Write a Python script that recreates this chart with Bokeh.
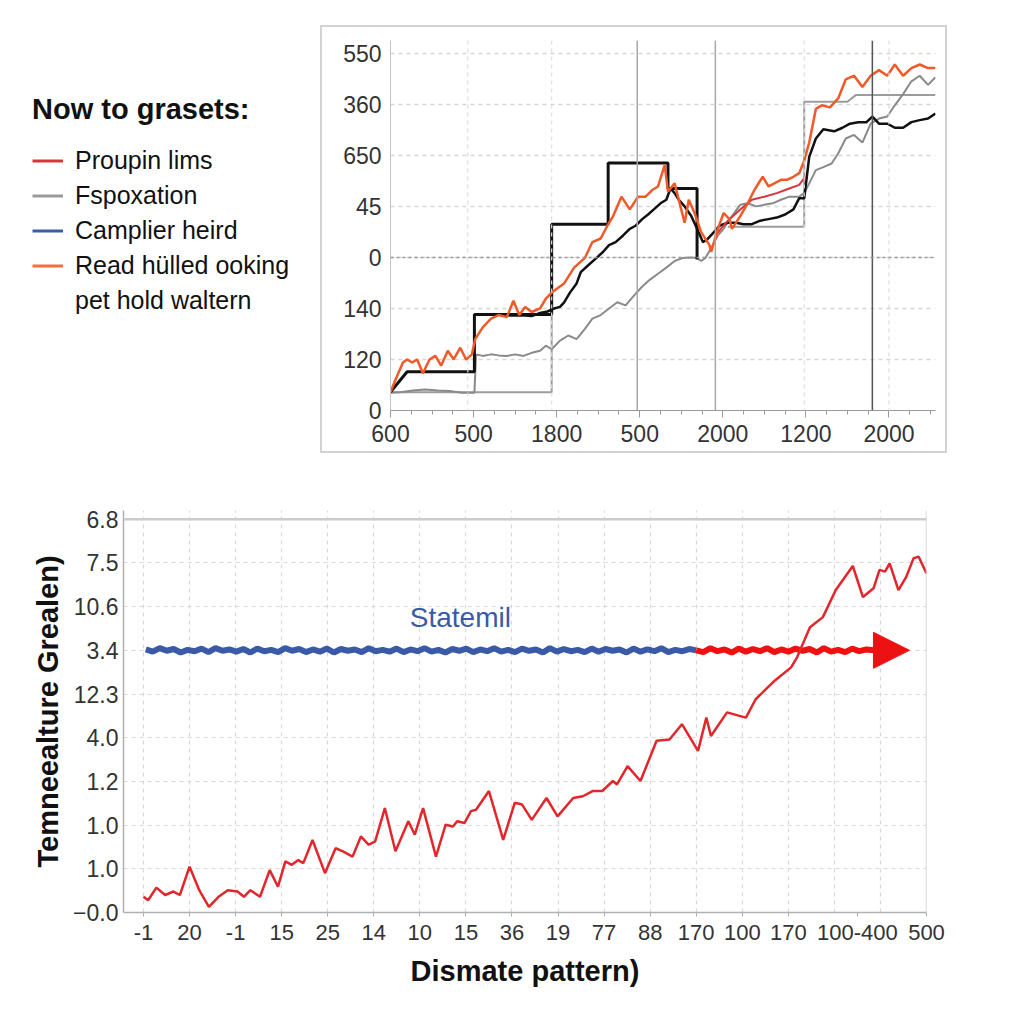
import numpy as np
from bokeh.plotting import figure
from bokeh.models import (Range1d, FixedTicker, Span, Legend, LegendItem, Arrow,
                          NormalHead, Spacer)
from bokeh.layouts import column, row
from bokeh.embed import file_html
from bokeh.resources import INLINE
from bokeh.core.properties import value

FONT = "Liberation Sans"
NaN = float("nan")

# ---------------- legend (left of top chart) ----------------
legend_title = "Now to grasets:"
legend_labels = ["Proupin lims", "Fspoxation", "Camplier heird",
                 "Read hülled ooking", "pet hold waltern"]
legend_colors = ["#d8343c", "#9a9a9a", "#3a5ba6", "#f0703e", None]

# ---------------- top chart ----------------
top_x_labels = ["600", "500", "1800", "500", "2000", "1200", "2000"]
top_y_labels = ["0", "120", "140", "0", "45", "650", "360", "550"]

orange_x = [0, 0.07, 0.15, 0.20, 0.26, 0.32, 0.39, 0.47, 0.54, 0.61, 0.69, 0.76, 0.84, 0.91,
            0.98, 1.02, 1.11, 1.21, 1.30, 1.40, 1.48, 1.55, 1.62, 1.70, 1.80, 1.87, 1.94,
            2.09, 2.21, 2.34, 2.43, 2.53, 2.61, 2.68, 2.78, 2.88, 2.98, 3.07, 3.15, 3.22,
            3.30, 3.34, 3.42, 3.49, 3.54, 3.59, 3.66, 3.74, 3.84, 3.86, 3.94, 4.01, 4.08,
            4.11, 4.21, 4.30, 4.38, 4.48, 4.55, 4.62, 4.70, 4.77, 4.85, 4.92, 4.98, 5.04,
            5.12, 5.19, 5.29, 5.39, 5.48, 5.58, 5.68, 5.78, 5.88, 5.98, 6.07, 6.17, 6.27,
            6.37, 6.47, 6.56]
orange_y = [0.36, 0.64, 0.94, 1.00, 0.94, 1.00, 0.73, 1.00, 1.07, 0.88, 1.17, 1.00, 1.23, 1.00,
            1.10, 1.40, 1.63, 1.80, 1.87, 1.83, 2.15, 1.87, 2.03, 1.93, 2.00, 2.19, 2.31,
            2.49, 2.80, 2.99, 3.30, 3.37, 3.62, 3.81, 4.19, 3.94, 4.19, 4.19, 4.32, 4.39,
            4.81, 4.29, 4.45, 4.00, 3.68, 4.13, 3.87, 3.49, 3.24, 3.11, 3.56, 3.87, 3.75,
            3.56, 3.81, 4.06, 4.32, 4.58, 4.39, 4.45, 4.52, 4.52, 4.58, 4.65, 4.90, 5.25,
            5.91, 5.98, 5.94, 6.12, 6.49, 6.56, 6.34, 6.56, 6.67, 6.56, 6.78, 6.56, 6.71,
            6.78, 6.71, 6.71]

black_x = [1.30, 1.45, 1.62, 1.70, 1.80, 1.89, 1.97, 2.04, 2.09, 2.16, 2.24, 2.29, 2.39, 2.48,
           2.56, 2.63, 2.71, 2.80, 2.88, 2.95, 3.03, 3.10, 3.17, 3.25, 3.32, 3.37, 3.42,
           3.47, 3.54, 3.62, 3.69, 3.76, 3.81, 3.89, 3.96, 4.06, 4.16, 4.25, 4.35, 4.45,
           4.55, 4.65, 4.75, 4.85, 4.92, 4.98, 5.04, 5.12, 5.21, 5.34, 5.44, 5.53, 5.63,
           5.73, 5.80, 5.88, 5.98, 6.07, 6.17, 6.27, 6.37, 6.47, 6.56]
black_y = [1.88, 1.86, 1.86, 1.85, 1.91, 1.94, 2.00, 2.03, 2.12, 2.31, 2.49, 2.71, 2.86, 2.99,
           3.11, 3.24, 3.30, 3.43, 3.56, 3.62, 3.75, 3.84, 3.94, 4.06, 4.13, 4.35, 4.26,
           4.13, 4.00, 3.81, 3.56, 3.30, 3.35, 3.49, 3.62, 3.68, 3.68, 3.65, 3.65, 3.72,
           3.75, 3.78, 3.84, 3.94, 4.16, 4.16, 4.97, 5.33, 5.51, 5.47, 5.54, 5.62, 5.65,
           5.65, 5.76, 5.62, 5.62, 5.54, 5.54, 5.65, 5.69, 5.72, 5.82]

black_step_x = [0, 0.20, 1.01, 1.01, 1.94, 1.94, 2.62, 2.62, 3.34, 3.34, 3.69, 3.69]
black_step_y = [0.36, 0.76, 0.76, 1.88, 1.88, 3.65, 3.65, 4.85, 4.85, 4.35, 4.35, 2.96]

gray_step_x = [0, 1.94, 1.94, NaN, 4.06, 4.98, 4.98, 5.50, 5.60, 6.56]
gray_step_y = [0.36, 0.36, 1.88, NaN, 3.60, 3.60, 6.05, 6.05, 6.18, 6.18]

gray_x = [0, 0.12, 0.27, 0.42, 0.57, 0.71, 0.86, 1.01, 1.03, 1.11, 1.21, 1.30, 1.40, 1.50,
          1.60, 1.70, 1.80, 1.87, 1.94, 2.04, 2.14, 2.24, 2.34, 2.43, 2.53, 2.63, 2.73,
          2.83, 2.93, 3.03, 3.12, 3.22, 3.32, 3.42, 3.52, 3.62, 3.69, 3.74, 3.79, 3.86,
          3.94, 4.01, 4.11, 4.21, 4.30, 4.40, 4.50, 4.60, 4.70, 4.80, 4.92, 4.98, 5.04,
          5.12, 5.21, 5.31, 5.39, 5.48, 5.58, 5.68, 5.78, 5.88, 5.98, 6.07, 6.17, 6.27,
          6.37, 6.47, 6.56]
gray_y = [0.35, 0.36, 0.39, 0.41, 0.39, 0.38, 0.35, 0.35, 1.10, 1.07, 1.10, 1.08, 1.07, 1.10,
          1.07, 1.13, 1.17, 1.27, 1.20, 1.37, 1.47, 1.40, 1.60, 1.80, 1.87, 2.00, 2.12,
          2.06, 2.25, 2.43, 2.56, 2.68, 2.80, 2.93, 2.99, 3.00, 2.99, 2.93, 2.99, 3.18,
          3.43, 3.56, 3.81, 4.03, 4.06, 4.00, 4.03, 4.06, 4.13, 4.19, 4.19, 4.26, 4.45,
          4.71, 4.77, 4.84, 5.04, 5.33, 5.40, 5.25, 5.62, 5.72, 5.76, 5.98, 6.20, 6.45,
          6.56, 6.38, 6.53]

red_top_x = [3.91, 4.06, 4.21, 4.35, 4.50, 4.65, 4.80, 4.92, 4.99]
red_top_y = [3.43, 3.72, 3.94, 4.13, 4.19, 4.26, 4.35, 4.42, 4.58]

top_vlines_solid = [2.97, 3.91]
top_vlines_dark = [5.80]
top_vlines_dashed = [0.93, 1.94, 4.98, 6.00]
top_zero_line = 3

# ---------------- bottom chart ----------------
bot_x_labels = ["-1", "20", "-1", "15", "25", "14", "10", "15", "36", "19", "77", "88",
                "170", "100", "170", "100-400", "500"]
bot_x_pos = [0, 1, 2, 3, 4, 5, 6, 7, 8, 9, 10, 11, 12, 13, 14, 15.5, 17]
bot_y_labels = ["\u22120.0", "1.0", "1.0", "1.2", "4.0", "12.3", "3.4", "10.6", "7.5", "6.8"]

trend_x = [0.00, 0.10, 0.28, 0.47, 0.65, 0.79, 1.00, 1.21, 1.42, 1.63, 1.83, 2.04, 2.18,
           2.32, 2.53, 2.74, 2.92, 3.08, 3.22, 3.36, 3.47, 3.67, 3.94, 4.17, 4.33, 4.54,
           4.72, 4.89, 5.03, 5.24, 5.47, 5.75, 5.89, 6.07, 6.35, 6.56, 6.72, 6.81, 6.97,
           7.11, 7.22, 7.50, 7.81, 8.06, 8.22, 8.43, 8.75, 8.99, 9.33, 9.54, 9.75, 9.96,
           10.19, 10.28, 10.51, 10.79, 11.14, 11.42, 11.69, 12.04, 12.22, 12.32, 12.67,
           12.94, 13.08, 13.29, 13.71, 14.06, 14.19, 14.47, 14.75, 15.03, 15.40, 15.62,
           15.85, 15.98, 16.10, 16.20, 16.39, 16.56, 16.72, 16.83, 17.00]
trend_y = [0.36, 0.28, 0.57, 0.40, 0.48, 0.40, 1.05, 0.51, 0.13, 0.36, 0.51, 0.48, 0.36,
           0.51, 0.36, 0.97, 0.59, 1.17, 1.09, 1.20, 1.13, 1.66, 0.90, 1.47, 1.40, 1.28,
           1.74, 1.55, 1.63, 2.39, 1.40, 2.09, 1.78, 2.39, 1.28, 2.01, 1.97, 2.09, 2.05,
           2.32, 2.35, 2.78, 1.66, 2.51, 2.47, 2.12, 2.62, 2.20, 2.62, 2.66, 2.78, 2.78,
           3.01, 2.93, 3.35, 3.01, 3.93, 3.96, 4.31, 3.70, 4.46, 4.04, 4.58, 4.50, 4.46,
           4.88, 5.31, 5.61, 5.84, 6.53, 6.76, 7.38, 7.93, 7.22, 7.42, 7.84, 7.80, 7.99,
           7.38, 7.68, 8.11, 8.14, 7.76]

band_level = 6
band_start = 0.05
band_switch = 12.0
band_end = 15.85
arrow_tip = 16.63
blue_band = [6.02, 5.97, 6.05, 5.99, 6.03, 5.95, 6.01, 5.98, 6.04, 5.96, 6.05, 5.99, 6.02,
             5.97, 6.03, 5.95, 6.04, 5.98, 6.01, 5.96, 6.05, 5.99, 6.03, 5.96, 6.02, 5.97,
             6.04, 5.95, 6.03, 5.99, 6.02, 5.96, 6.05, 5.98, 6.01, 5.97, 6.04, 5.96, 6.02,
             5.98, 6.05, 5.97, 6.01, 5.95, 6.03, 5.99, 6.04, 5.96, 6.02, 5.98, 6.05, 5.97,
             6.01, 5.96, 6.04, 5.99, 6.02, 5.95, 6.05, 5.97, 6.03, 5.98, 6.01, 5.96, 6.04,
             5.97, 6.03, 5.99, 6.02, 5.95, 6.04, 5.97, 6.02, 5.98, 6.05, 5.96, 6.01, 5.98,
             6.03, 6.00]
red_band = [6.00, 5.96, 6.05, 5.98, 6.02, 5.95, 6.04, 5.97, 6.03, 5.98, 6.05, 5.96, 6.02,
            5.97, 6.04, 5.99, 6.03, 5.95, 6.05, 5.97, 6.01, 5.96, 6.04, 5.98, 6.02, 6.00]

annot_text = "Statemil"
annot_x = 6.88
annot_y = 6.76

# ================= build: legend figure =================
leg = figure(width=312, height=449, x_axis_type=None, y_axis_type=None,
             x_range=Range1d(0, 1), y_range=Range1d(0, 1),
             output_backend="svg", toolbar_location=None, min_border=0,
             outline_line_color=None, background_fill_color=None, border_fill_color=None)
items = []
for lab, col in zip(legend_labels, legend_colors):
    r = leg.line(x=[NaN, NaN], y=[NaN, NaN], line_color=col if col else "white",
                 line_alpha=1.0 if col else 0.0, line_width=3)
    items.append(LegendItem(label=lab, renderers=[r]))
legend = Legend(items=items, location=(24, 142), title=legend_title,
                title_text_font=FONT, title_text_font_size="29px",
                title_text_font_style="bold", title_text_color="#111111",
                title_standoff=20,
                label_text_font=FONT, label_text_font_size="25px",
                label_text_color="#111111", glyph_width=31, glyph_height=29,
                label_height=29, label_standoff=12, spacing=6, padding=0, margin=0,
                border_line_color=None, background_fill_alpha=0)
leg.add_layout(legend)

# ================= build: top chart =================
top = figure(width=627, height=428, x_range=Range1d(0, 6.56), y_range=Range1d(0, 7.25),
             output_backend="svg", toolbar_location=None,
             min_border_left=68, min_border_right=14, min_border_top=13, min_border_bottom=45,
             outline_line_color=None)
top.styles = {"border": "2px solid #d2d2d2"}

tx = list(range(len(top_x_labels)))
ty = list(range(len(top_y_labels)))
minor = [a + f for a in tx for f in (0.25, 0.5, 0.75) if a + f < 6.56]
top.xaxis.ticker = FixedTicker(ticks=tx, minor_ticks=minor)
top.xaxis.major_label_overrides = {t: l for t, l in zip(tx, top_x_labels)}
top.yaxis.ticker = FixedTicker(ticks=ty)
top.yaxis.major_label_overrides = {t: l for t, l in zip(ty, top_y_labels)}
for ax in (top.xaxis[0], top.yaxis[0]):
    ax.major_label_text_font = FONT
    ax.major_label_text_font_size = "23px"
    ax.major_label_text_color = "#333333"
top.xaxis.axis_line_color = "#9a9a9a"
top.xaxis.major_tick_line_color = "#9a9a9a"
top.xaxis.minor_tick_line_color = "#9a9a9a"
top.xaxis.major_tick_out = 7
top.xaxis.major_tick_in = 0
top.xaxis.minor_tick_out = 4
top.xaxis.minor_tick_in = 0
top.xaxis.major_label_standoff = 7
top.yaxis.axis_line_color = "#c4c4c4"
top.yaxis.major_tick_line_color = None
top.yaxis.minor_tick_line_color = None
top.yaxis.major_tick_out = 0
top.yaxis.major_label_standoff = 9
top.xgrid.visible = False
top.ygrid.ticker = FixedTicker(ticks=ty[1:])
top.ygrid.grid_line_color = "#d6d6d6"
top.ygrid.grid_line_dash = "4 4"
top.ygrid.grid_line_width = 1.5

for v in top_vlines_dashed:
    top.add_layout(Span(location=v, dimension="height", line_color="#dddddd",
                        line_dash="4 4", line_width=1.2))
for v in top_vlines_solid:
    top.add_layout(Span(location=v, dimension="height", line_color="#a8a8a8", line_width=1.5))
for v in top_vlines_dark:
    top.add_layout(Span(location=v, dimension="height", line_color="#555555", line_width=1.5))
top.add_layout(Span(location=top_zero_line, dimension="width", line_color="#9a9a9a",
                    line_dash="3 3", line_width=1.5))

top.line(gray_step_x, gray_step_y, line_color="#9c9c9c", line_width=2)
top.line(gray_x, gray_y, line_color="#8a8a8a", line_width=2)
top.line(black_step_x, black_step_y, line_color="#111111", line_width=3)
top.line(black_x, black_y, line_color="#111111", line_width=2.5)
top.line(red_top_x, red_top_y, line_color="#d8343c", line_width=2)
top.line(orange_x, orange_y, line_color="#f05a28", line_width=2.5)

# ================= build: bottom chart =================
bot = figure(width=950, height=548, x_range=Range1d(-0.434, 17), y_range=Range1d(0, 9.2),
             output_backend="svg", toolbar_location=None,
             min_border_left=115, min_border_right=32, min_border_top=53, min_border_bottom=93,
             outline_line_color=None)
by = list(range(len(bot_y_labels)))
bot.xaxis.ticker = FixedTicker(ticks=bot_x_pos)
bot.xaxis.major_label_overrides = {t: l for t, l in zip(bot_x_pos, bot_x_labels)}
bot.yaxis.ticker = FixedTicker(ticks=by)
bot.yaxis.major_label_overrides = {t: l for t, l in zip(by, bot_y_labels)}
for ax in (bot.xaxis[0], bot.yaxis[0]):
    ax.major_label_text_font = FONT
    ax.major_label_text_color = "#333333"
    ax.axis_line_color = "#b0b0b0"
    ax.axis_line_width = 1.5
    ax.axis_label_text_font = FONT
    ax.axis_label_text_font_style = "bold"
    ax.axis_label_text_color = "#111111"
    ax.minor_tick_line_color = None
bot.xaxis.major_label_text_font_size = "22px"
bot.yaxis.major_label_text_font_size = "23px"
bot.xaxis.major_tick_line_color = "#b0b0b0"
bot.xaxis.major_tick_out = 4
bot.xaxis.major_tick_in = 0
bot.xaxis.major_label_standoff = 8
bot.yaxis.major_tick_line_color = None
bot.yaxis.major_tick_out = 0
bot.yaxis.major_tick_in = 0
bot.yaxis.major_label_standoff = 5
bot.xaxis.axis_label = "Dismate pattern)"
bot.xaxis.axis_label_text_font_size = "29px"
bot.xaxis.axis_label_standoff = 12
bot.yaxis.axis_label = "Temneealture Grealen)"
bot.yaxis.axis_label_text_font_size = "29px"
bot.yaxis.axis_label_standoff = 6
bot.xgrid.ticker = FixedTicker(ticks=list(range(17)))
bot.ygrid.ticker = FixedTicker(ticks=by[1:-1])
bot.grid.grid_line_color = "#d8d8d8"
bot.grid.grid_line_dash = "4 4"
bot.grid.grid_line_width = 1.2
bot.add_layout(Span(location=by[-1], dimension="width", line_color="#cccccc", line_width=2.5))
bot.add_layout(Span(location=17, dimension="height", line_color="#cccccc", line_width=1.5))

bot.line(np.linspace(band_start, band_switch, len(blue_band)), blue_band,
         line_color="#3a5aa8", line_width=6)
bot.line(np.linspace(band_switch, band_end, len(red_band)), red_band,
         line_color="#ee1111", line_width=6)
bot.add_layout(Arrow(end=NormalHead(size=36, fill_color="#ee1111", line_color="#ee1111"),
                     x_start=band_end - 0.1, y_start=band_level, x_end=arrow_tip,
                     y_end=band_level, line_color="#ee1111", line_width=5))
bot.line(trend_x, trend_y, line_color="#e2262b", line_width=2.5)
bot.text(x=[annot_x], y=[annot_y], text=[annot_text], text_font=value(FONT),
         text_font_size="28px", text_color="#3a5aa8", text_align="center",
         text_baseline="middle")

layout = row(Spacer(width=8),
             column(Spacer(height=8),
                    row(leg, column(Spacer(height=17), top)),
                    bot))
open("out.html", "w").write(file_html(layout, INLINE))
